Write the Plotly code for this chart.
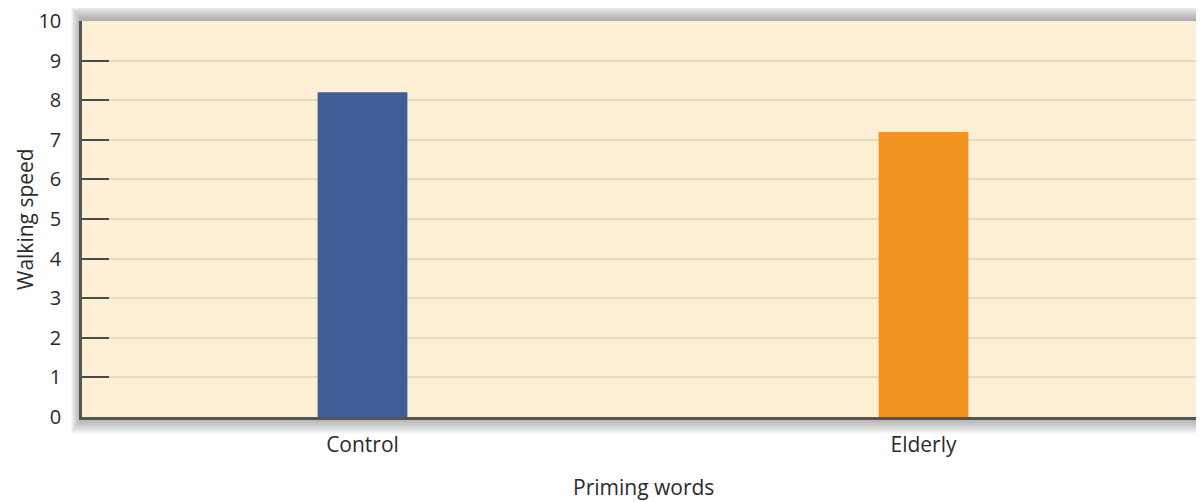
import plotly.graph_objects as go

categories = ["Control", "Elderly"]
walking_speed = [8.2, 7.2]
bar_colors = ["#3d5f95", "#f39322"]
y_ticks = list(range(0, 11))

fig = go.Figure(
    go.Bar(
        x=categories,
        y=walking_speed,
        marker=dict(color=bar_colors, line=dict(width=0)),
        hoverinfo="x+y",
    )
)

font_family = "Open Sans, Noto Sans, sans-serif"
txt = "#2b2b2b"

W, H = 1196, 494
ML, MR, MT, MB = 74, 0, 13, 85
pw, ph = W - ML - MR, H - MT - MB

# soft drop shadow around the plot frame, then the beige panel on top
shapes = []
for i in range(14, 0, -1):
    dx, dy = i / pw, i / ph
    shapes.append(dict(type="rect", xref="paper", yref="paper",
                       x0=-dx * 0.8, x1=1 + dx, y0=-dy * 1.2, y1=1 + dy * 1.1,
                       fillcolor="rgba(70,70,80,0.04)", line=dict(width=0),
                       layer="below"))
shapes.append(dict(type="rect", xref="paper", yref="paper", x0=0, x1=1, y0=0, y1=1,
                   fillcolor="#fdefd3", line=dict(width=0), layer="below"))

fig.update_layout(
    width=W,
    height=H,
    margin=dict(l=ML, r=MR, t=MT, b=MB, autoexpand=False),
    paper_bgcolor="white",
    plot_bgcolor="rgba(0,0,0,0)",
    bargap=0.84,
    showlegend=False,
    font=dict(family=font_family, color=txt),
    shapes=shapes,
    annotations=[
        dict(text="Walking speed", xref="paper", yref="paper", x=(17 - ML) / pw, y=0.5,
             xanchor="center", yanchor="middle", textangle=-90, showarrow=False,
             font=dict(size=21, color=txt)),
        dict(text="Priming words", xref="paper", yref="paper", x=0.5, y=0,
             xanchor="center", yanchor="middle", showarrow=False,
             yshift=-70, font=dict(size=21, color=txt)),
    ],
)

fig.update_yaxes(
    range=[0, 10],
    tickvals=y_ticks,
    ticks="inside",
    ticklen=27,
    tickwidth=2,
    tickcolor="#4a4a4a",
    ticklabelstandoff=14,
    ticklabeloverflow="allow",
    showgrid=True,
    gridcolor="#e6dac0",
    gridwidth=1.5,
    showline=True,
    linecolor="#555555",
    linewidth=2.5,
    zeroline=False,
    automargin=False,
    tickfont=dict(size=20, color=txt),
)

fig.update_xaxes(
    showline=True,
    linecolor="#555555",
    linewidth=2.5,
    ticks="",
    ticklabelstandoff=7,
    ticklabeloverflow="allow",
    automargin=False,
    tickfont=dict(size=21, color=txt),
)

fig.write_html("out.html")
